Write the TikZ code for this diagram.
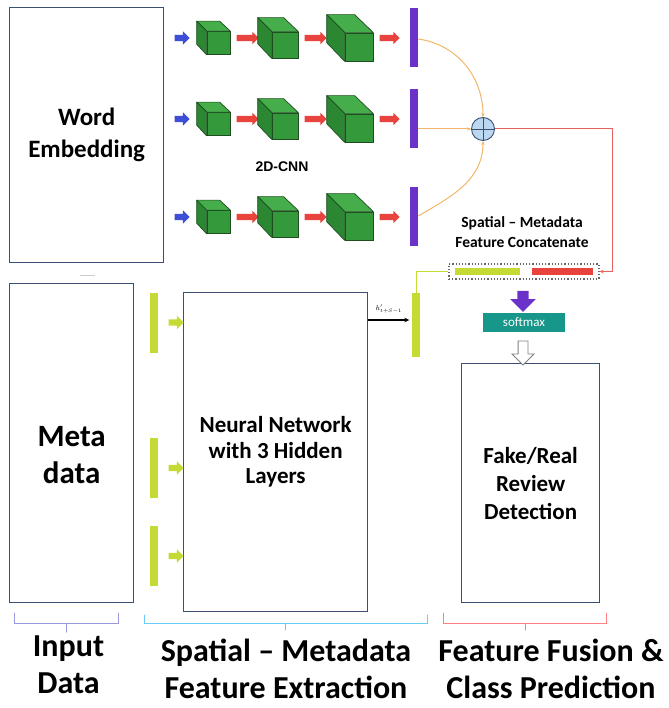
\documentclass[tikz,border=0pt]{standalone}
\usepackage{fontspec}
\setmainfont{Carlito}
\newfontfamily\cnnfont{Liberation Sans}
\definecolor{colorFrame}{HTML}{3B5070}
\definecolor{colorCube}{HTML}{34993A}
\definecolor{colorCubeTop}{HTML}{45AD4A}
\definecolor{colorCubeSide}{HTML}{2B8731}
\definecolor{colorCubeEdge}{HTML}{1E4D20}
\definecolor{colorInput}{HTML}{3D4FD6}
\definecolor{colorConv}{HTML}{E8433D}
\definecolor{colorPool}{HTML}{6A32C8}
\definecolor{colorMeta}{HTML}{C5DA35}
\definecolor{colorSoftmax}{HTML}{17968A}
\definecolor{colorFuse}{HTML}{F2B66A}
\definecolor{colorFuseOut}{HTML}{E86262}
\definecolor{colorPlus}{HTML}{BCD7F0}
\usetikzlibrary{arrows.meta, shapes.arrows, positioning}
\tikzset{
  block/.style={draw=colorFrame, line width=1.3pt, fill=white, anchor=north west, align=center, inner sep=0pt},
  cubeface/.style={draw=colorCubeEdge, fill=colorCube, line width=0.7pt, inner sep=0pt},
  cubetop/.style={draw=colorCubeEdge, fill=colorCubeTop, line width=0.7pt, line join=round},
  cubeside/.style={draw=colorCubeEdge, fill=colorCubeSide, line width=0.7pt, line join=round},
  fatarrow/.style={single arrow, fill=#1, single arrow head indent=0pt},
  vbar/.style={fill=#1, minimum width=8pt, minimum height=59pt, inner sep=0pt},
  fuseline/.style={colorFuse, line width=1pt, -{Stealth[length=4pt, width=3.5pt]}},
  brace/.style={line width=1pt, line cap=round},
  title/.style={font=\bfseries\fontsize{32}{37}\selectfont, align=center, inner sep=0pt}
}
\newcommand{\cnncube}[4]{%
  \node[cubeface, minimum size=#3pt] (#1) at (#2) {};
  \filldraw[cubetop] (#1.north west) -- ++(-#4,-#4) -- ++(#3,0) -- (#1.north east) -- cycle;
  \filldraw[cubeside] (#1.north west) -- ++(-#4,-#4) -- ++(0,#3) -- (#1.south west) -- cycle;
}

\begin{document}
\begin{tikzpicture}[x=1pt, y=-1pt]
\useasboundingbox (0,0) rectangle (668,708);
\node[block, minimum width=154pt, minimum height=255pt, font=\bfseries\fontsize{25}{32}\selectfont] (wordemb) at (9,7) {Word\\Embedding};
\node[block, minimum width=124pt, minimum height=319pt] (metadata) at (9,283) {};
\node[font=\bfseries\fontsize{31}{37}\selectfont, align=center] (metatext) at ([yshift=-12pt]metadata.center) {Meta\\data};
\node[block, minimum width=184pt, minimum height=319pt, font=\bfseries\fontsize{23}{25.5}\selectfont] (nn) at (183,292) {Neural Network\\with 3 Hidden\\Layers};
\node[block, minimum width=138pt, minimum height=239pt, font=\bfseries\fontsize{23}{28}\selectfont] (detect) at (461,363) {Fake/Real\\Review\\Detection};
\draw[gray!40, line width=1pt] (80,275) -- (95,275);

\foreach \r/\y in {1/38, 2/119, 3/217} {
  \node[fatarrow=colorInput, minimum height=15pt, inner sep=3pt, single arrow head extend=3.5pt] (in\r) at (180.5,\y) {};
  \cnncube{cubeA\r}{218.5,\y+5}{23}{10}
  \node[fatarrow=colorConv, minimum height=22pt, inner sep=3pt, single arrow head extend=3pt] (convA\r) at (246,\y) {};
  \cnncube{cubeB\r}{285,\y+7}{26}{14}
  \node[fatarrow=colorConv, minimum height=22pt, inner sep=3pt, single arrow head extend=3pt] (convB\r) at (314,\y) {};
  \cnncube{cubeC\r}{359,\y+9}{28}{18}
  \node[fatarrow=colorConv, minimum height=20pt, inner sep=3pt, single arrow head extend=3pt] (convC\r) at (388,\y) {};
  \node[vbar=colorPool] (pool\r) at (414,\y) {};
}
\node[font=\cnnfont\bfseries\fontsize{14}{16}\selectfont] (cnnlabel) at (282,167) {2D-CNN};

\node[circle, draw=colorFrame, fill=colorPlus, minimum size=23pt, line width=0.9pt, inner sep=0pt] (fuse) at (483,129) {};
\draw[colorFrame, line width=0.9pt] (fuse.north) -- (fuse.south) (fuse.west) -- (fuse.east);
\draw[fuseline] ([yshift=-1pt]pool1.east) to[out=-8, in=90] (fuse.north);
\draw[fuseline] (pool2.east |- fuse.west) -- (fuse.west);
\draw[fuseline] ([yshift=1pt]pool3.east) to[out=30, in=-90] (fuse.south);

\node[font=\bfseries\fontsize{15.5}{20}\selectfont, align=center] (concattext) at (522,232) {Spatial -- Metadata\\Feature Concatenate};
\node[draw=black!60, dotted, line width=1.2pt, minimum width=150pt, minimum height=15pt, inner sep=0pt] (concat) at (524,271.5) {};
\node[fill=colorMeta, minimum width=65pt, minimum height=7pt, inner sep=0pt] (concatmeta) at (487.5,271) {};
\node[fill=colorConv, minimum width=61pt, minimum height=7pt, inner sep=0pt] (concatcnn) at (562.5,271) {};
\draw[colorFuseOut, line width=1pt, -{Stealth[length=4pt, width=3.5pt]}] (fuse.east) -- ++(118,0) |- (concat.east);

\foreach \r/\y in {1/322.5, 2/468, 3/556} {
  \node[vbar=colorMeta, minimum height=60pt] (metabar\r) at (154,\y) {};
  \node[fatarrow=colorMeta, minimum height=15pt, inner sep=3pt, single arrow head extend=3.5pt] (metain\r) at (174.5,\y) {};
}
\node[vbar=colorMeta, minimum height=64pt] (hbar) at (416,325) {};
\draw[colorMeta, line width=1pt] (concat.west) -| (hbar.north);
\draw[black, line width=1.2pt, -{Stealth[length=5pt, width=4.5pt]}] ([yshift=-28pt]nn.north east) -- ++(41,0) node[midway, above=3pt, font=\fontsize{7}{8}\selectfont] (hlabel) {$h'_{t+S-1}$};

\node[fatarrow=colorPool, shape border rotate=270, minimum height=21pt, inner sep=5.5pt, single arrow head extend=7pt] (purplearrow) at (523,298.5) {};
\node[fill=colorSoftmax, minimum width=82pt, minimum height=19pt, inner sep=0pt, text=white, font=\fontsize{13}{14}\selectfont] (softmax) at (524,322.5) {softmax};
\node[single arrow, draw=gray, fill=white, line width=0.8pt, shape border rotate=270, inner sep=4.5pt, minimum height=24pt, single arrow head extend=6pt, single arrow head indent=0pt] (outarrow) at (523,350.5) {};

\draw[brace, draw=black!35!blue!40] (14,613) -- (14,623) -- (118,623) -- (118,613) (66,623) -- (66,632);
\draw[brace, draw=cyan!60] (144,615) -- (144,623) -- (427,623) -- (427,615) (285,623) -- (285,630);
\draw[brace, draw=red!50] (443,613) -- (443,623) -- (606,623) -- (606,613) (525,623) -- (525,630);
\node[title] (lblinput) at (68.5,665) {Input\\Data};
\node[title] (lblextract) at (286,669) {Spatial -- Metadata\\Feature Extraction};
\node[title] (lblfusion) at (551,669) {Feature Fusion \&\\Class Prediction};
\end{tikzpicture}
\end{document}
